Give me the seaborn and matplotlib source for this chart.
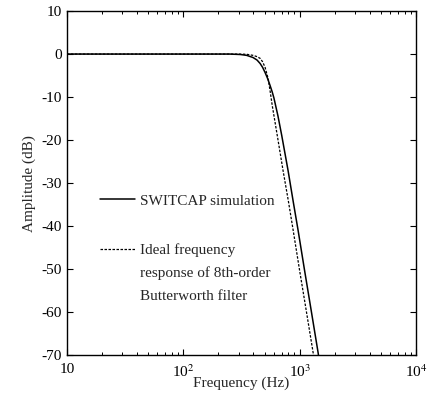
import matplotlib
matplotlib.use("Agg")
import matplotlib.pyplot as plt
import matplotlib.transforms as mtransforms
import seaborn as sns
import numpy as np
import pandas as pd
from matplotlib.ticker import FixedLocator, LogLocator, NullFormatter

# Data
sim_freq = [10, 100, 250, 308, 350, 397, 430, 457, 480, 504, 530, 556, 580, 600, 650, 700, 794, 880, 968, 1100, 1250, 1439, 1480]
sim_db = [0, 0, 0, -0.1, -0.3, -0.8, -1.4, -2.2, -3.1, -4.3, -5.7, -7.3, -8.8, -10.2, -14.4, -18.9, -27.1, -34.4, -41.0, -50.3, -59.4, -69.5, -72]
ideal_freq = [10, 100, 300, 350, 397, 430, 457, 480, 504, 535, 556, 580, 650, 719, 800, 877, 997, 1133, 1304, 1340]
ideal_db = [0, 0, 0, -0.05, -0.3, -0.6, -1.0, -1.8, -3.1, -5.7, -8.5, -11.9, -19.9, -27.1, -34.3, -40.9, -50.3, -59.4, -69.5, -72]

sim_label = "SWITCAP simulation"
ideal_label_lines = ["Ideal frequency", "response of 8th-order", "Butterworth filter"]
y_ticks = [10, 0, -10, -20, -30, -40, -50, -60, -70]
y_tick_labels = ["10", "0", "-10", "-20", "-30", "-40", "-50", "-60", "-70"]
x_ticks = [10, 100, 1000, 10000]
x_tick_labels = ["10", "10$^2$", "10$^3$", "10$^4$"]

sns.set_style("ticks")
plt.rcParams["font.family"] = ["Liberation Serif", "DejaVu Serif"]
plt.rcParams["mathtext.fontset"] = "stix"

fig = plt.figure(figsize=(4.34, 3.95), dpi=100)
ax = fig.add_axes([0.154, 0.101, 0.805, 0.871])

df_sim = pd.DataFrame({"f": sim_freq, "db": sim_db})
df_ideal = pd.DataFrame({"f": ideal_freq, "db": ideal_db})

sns.lineplot(data=df_sim, x="f", y="db", ax=ax, color="black", linewidth=1.1,
             label=sim_label, sort=False)
sns.lineplot(data=df_ideal, x="f", y="db", ax=ax, color="black", linewidth=0.9,
             linestyle=(0, (2, 1.2)), label=ideal_label_lines[0], sort=False)

ax.set_xscale("log")
ax.set_xlim(10, 10000)
ax.set_ylim(-70, 10)
ax.xaxis.set_major_locator(FixedLocator(x_ticks))
ax.set_xticklabels(x_tick_labels)
ax.xaxis.set_minor_locator(LogLocator(base=10, subs=np.arange(2, 10)))
ax.xaxis.set_minor_formatter(NullFormatter())
ax.set_yticks(y_ticks)
ax.set_yticklabels(y_tick_labels)

for s in ax.spines.values():
    s.set_visible(True)
    s.set_linewidth(1.0)
    s.set_color("black")

ax.tick_params(which="both", direction="in", top=True, right=True, colors="black",
               labelsize=11)
ax.tick_params(which="major", length=4, width=0.8)
ax.tick_params(which="minor", length=2.5, width=0.7)
ax.tick_params(axis="x", pad=6)

ax.set_xlabel("Frequency (Hz)", fontsize=11, labelpad=-2.5)
ax.set_ylabel("Amplitude (dB)", fontsize=11, labelpad=4)

leg = ax.legend(loc="upper left", bbox_to_anchor=(0.095, 0.468), frameon=False,
                fontsize=11, handlelength=2.3, handletextpad=0.33,
                labelspacing=2.33, borderpad=0, borderaxespad=0)

fig.canvas.draw()
renderer = fig.canvas.get_renderer()
bb = leg.get_texts()[1].get_window_extent(renderer)
ident = mtransforms.IdentityTransform()
for i, line in enumerate(ideal_label_lines[1:], start=1):
    fig.text(bb.x0, bb.y0 - 23 * i, line, transform=ident, ha="left", va="bottom",
             fontsize=11)

fig.savefig("out.png", dpi=100)
